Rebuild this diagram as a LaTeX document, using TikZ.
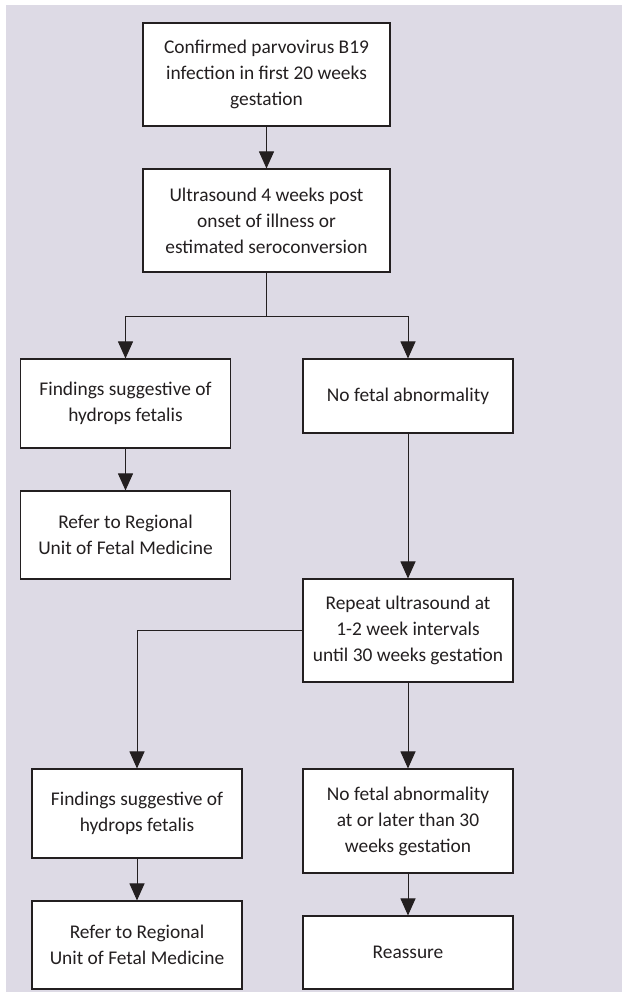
\documentclass[tikz,border=0pt]{standalone}
\usepackage{fontspec}
\setmainfont{Carlito}
\usetikzlibrary{arrows.meta}

\definecolor{panelgrey}{RGB}{221,218,229}
\definecolor{boxline}{RGB}{35,31,32}

\begin{document}
\begin{tikzpicture}[
    x=1pt,
    y=-1pt,
    font=\fontsize{19.4}{26}\selectfont,
    flowbox/.style={draw=boxline, fill=white, line width=1.1pt, inner sep=0pt,
        align=center, text=boxline},
    wide/.style={flowbox, minimum width=247pt},
    narrow/.style={flowbox, minimum width=210pt},
    flow/.style={draw=boxline, line width=1pt, -{Triangle[length=17pt, width=15pt]}},
    link/.style={draw=boxline, line width=1pt}
]

\path[use as bounding box] (0,0) rectangle (622,1001);
\fill[panelgrey] (6,5) rectangle (622,992);

% Top of the chart.
\node[wide, minimum height=103pt] (confirmed) at (266.5,74.5)
    {Confirmed parvovirus B19\\infection in first 20 weeks\\gestation};
\node[wide, minimum height=103pt] (scan) at (266.5,220.5)
    {Ultrasound 4 weeks post\\onset of illness or\\estimated seroconversion};

% First branch.
\node[narrow, minimum height=89pt] (hydrops) at (125.5,403.5)
    {Findings suggestive of\\hydrops fetalis};
\node[narrow, minimum height=74pt] (normal) at (408,396)
    {No fetal abnormality};
\node[narrow, minimum height=88pt] (refer) at (125.5,535)
    {Refer to Regional\\Unit of Fetal Medicine};
\node[narrow, minimum height=103pt] (repeat) at (408,630.5)
    {Repeat ultrasound at\\1-2 week intervals\\until 30 weeks gestation};

% Second branch.
\node[narrow, minimum height=89pt] (hydropslate) at (137,813.5)
    {Findings suggestive of\\hydrops fetalis};
\node[narrow, minimum height=104pt] (normallate) at (408,821)
    {No fetal abnormality\\at or later than 30\\weeks gestation};
\node[narrow, minimum height=88pt] (referlate) at (137,945)
    {Refer to Regional\\Unit of Fetal Medicine};
\node[narrow, minimum height=73pt] (reassure) at (408,952.5)
    {Reassure};

% Connectors.
\coordinate (split) at (266.5,316);
\draw[flow] (confirmed) -- (scan);
\draw[link] (scan) -- (split);
\draw[flow] (split) -| (hydrops);
\draw[flow] (split) -| (normal);
\draw[flow] (hydrops) -- (refer);
\draw[flow] (normal) -- (repeat);
\draw[flow] (repeat.west) -| (hydropslate);
\draw[flow] (repeat) -- (normallate);
\draw[flow] (hydropslate) -- (referlate);
\draw[flow] (normallate) -- (reassure);

\end{tikzpicture}
\end{document}
